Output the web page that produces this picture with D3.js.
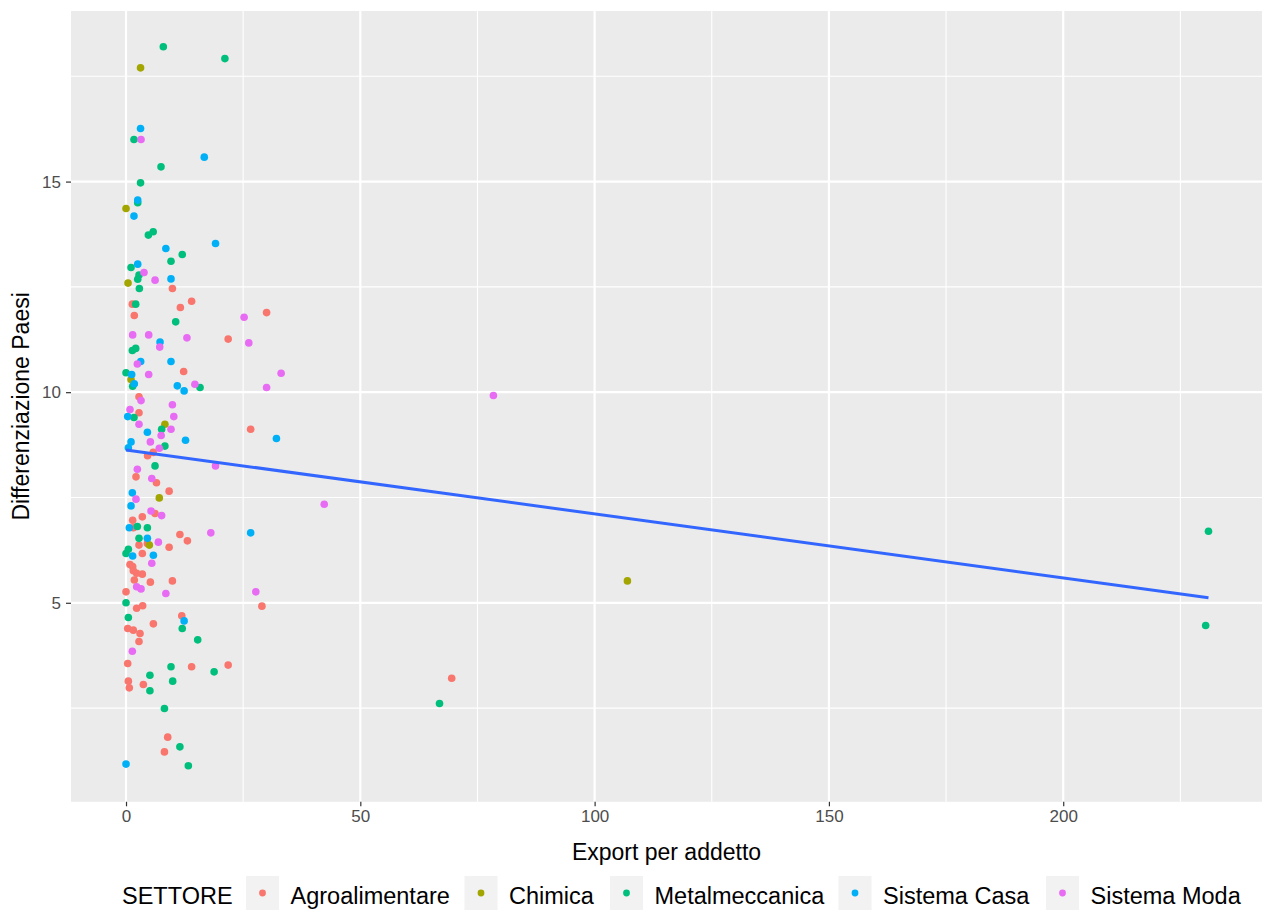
<!DOCTYPE html>
<html><head><meta charset="utf-8">
<script src="https://cdn.jsdelivr.net/npm/d3@7/dist/d3.min.js"></script>
<style>body{margin:0;background:#fff}svg{display:block;font-family:"Liberation Sans",Arial,sans-serif}</style>
</head><body><svg id="c" width="1262" height="910"></svg>
<script>
const sectors = ["Agroalimentare","Chimica","Metalmeccanica","Sistema Casa","Sistema Moda"];
const colors = ["#F8766D","#A3A500","#00BF7D","#00B0F6","#E76BF3"];
const agroalimentare = [[9.9,12.46],[14.0,12.16],[1.35,12.09],[11.6,12.01],[1.77,11.82],[21.8,11.26],[12.3,10.49],[2.77,9.89],[2.77,9.51],[5.8,8.57],[4.6,8.49],[2.13,7.99],[6.5,7.85],[9.2,7.65],[6.19,7.12],[3.48,7.04],[1.42,6.96],[11.5,6.62],[13.1,6.47],[1.56,6.78],[2.77,6.37],[4.56,6.41],[9.2,6.32],[3.48,6.17],[0.85,5.91],[1.42,5.86],[1.56,5.76],[2.27,5.7],[3.48,5.68],[1.77,5.54],[5.2,5.49],[9.9,5.52],[0,5.26],[3.55,4.93],[2.27,4.87],[11.9,4.69],[5.84,4.5],[0.36,4.39],[1.56,4.35],[2.99,4.27],[2.77,4.08],[0.36,3.56],[14.0,3.48],[21.8,3.52],[3.7,3.06],[0.5,3.14],[0.7,2.98],[8.9,1.81],[8.2,1.46],[30.0,11.89],[26.6,9.12],[29.0,4.92],[69.5,3.21]];
const chimica = [[3.1,17.7],[0,14.36],[0.43,12.59],[1.07,10.3],[8.3,9.24],[7.1,7.49],[4.98,6.37],[107.0,5.52]];
const metalmeccanica = [[7.96,18.2],[21.1,17.92],[1.7,16.0],[7.47,15.35],[3.1,14.97],[2.5,14.5],[5.8,13.81],[4.77,13.73],[12.0,13.27],[9.6,13.11],[1.07,12.96],[2.77,12.78],[2.5,12.68],[2.85,12.46],[2.07,12.09],[10.6,11.67],[2.07,11.04],[1.35,10.99],[0,10.46],[1.42,10.14],[15.8,10.11],[1.7,9.4],[7.6,9.12],[8.3,8.72],[6.19,8.25],[2.42,6.81],[4.56,6.78],[2.77,6.53],[0.5,6.27],[0,6.17],[0,5.0],[0.5,4.65],[12.0,4.39],[15.3,4.12],[9.6,3.48],[18.8,3.36],[5.1,3.28],[9.96,3.14],[5.1,2.91],[8.2,2.49],[11.5,1.58],[13.3,1.13],[66.9,2.61],[231.0,6.70],[230.4,4.46]];
const sistemaCasa = [[3.1,16.26],[16.7,15.58],[2.5,14.56],[1.7,14.18],[19.1,13.53],[8.5,13.41],[2.5,13.04],[9.6,12.69],[7.26,11.19],[3.13,10.73],[9.6,10.73],[1.21,10.42],[1.77,10.2],[10.95,10.15],[12.4,10.03],[0.36,9.42],[4.56,9.05],[12.7,8.86],[1.07,8.82],[0.5,8.68],[1.35,7.61],[1.07,7.3],[0.7,6.78],[4.56,6.53],[1.42,6.11],[5.84,6.13],[12.4,4.57],[0,1.17],[32.1,8.9],[26.6,6.66]];
const sistemaModa = [[3.2,16.0],[3.84,12.84],[6.2,12.66],[1.42,11.36],[4.84,11.36],[13.0,11.29],[7.19,11.07],[2.42,10.67],[4.84,10.42],[14.7,10.19],[3.2,9.8],[9.9,9.7],[0.85,9.59],[10.2,9.42],[2.77,9.24],[9.6,9.12],[7.5,8.97],[5.2,8.82],[7.1,8.67],[19.1,8.25],[2.42,8.17],[5.5,7.95],[2.13,7.46],[5.34,7.18],[7.6,7.07],[18.1,6.66],[6.9,6.44],[5.5,5.94],[2.27,5.38],[3.2,5.33],[8.5,5.22],[1.35,3.85],[25.2,11.78],[26.2,11.17],[33.1,10.45],[30.0,10.11],[42.3,7.34],[27.7,5.26],[78.4,9.92]];
const seriesData = [agroalimentare, chimica, metalmeccanica, sistemaCasa, sistemaModa];
const fitLine = [[0, 8.63], [231.0, 5.12]];
const xTicks = [0, 50, 100, 150, 200];
const xMinor = [25, 75, 125, 175, 225];
const yTicks = [5, 10, 15];
const yMinor = [2.5, 7.5, 12.5, 17.5];

const svg = d3.select("#c");
const L = 71, R = 1262, T = 11, B = 801.8;
const x = d3.scaleLinear().domain([-11.74, 242.42]).range([L, R]);
const y = d3.scaleLinear().domain([0.275, 19.05]).range([B, T]);

svg.append("rect").attr("x", L).attr("y", T).attr("width", R - L).attr("height", B - T).attr("fill", "#EBEBEB");
const g = svg.append("g");
g.selectAll(".vmin").data(xMinor).join("line").attr("x1", d => x(d)).attr("x2", d => x(d)).attr("y1", T).attr("y2", B).attr("stroke", "#fff").attr("stroke-width", 1.1);
g.selectAll(".hmin").data(yMinor).join("line").attr("y1", d => y(d)).attr("y2", d => y(d)).attr("x1", L).attr("x2", R).attr("stroke", "#fff").attr("stroke-width", 1.1);
g.selectAll(".vmaj").data(xTicks).join("line").attr("x1", d => x(d)).attr("x2", d => x(d)).attr("y1", T).attr("y2", B).attr("stroke", "#fff").attr("stroke-width", 2.2);
g.selectAll(".hmaj").data(yTicks).join("line").attr("y1", d => y(d)).attr("y2", d => y(d)).attr("x1", L).attr("x2", R).attr("stroke", "#fff").attr("stroke-width", 2.2);

// axes
const xAxis = d3.axisBottom(x).tickValues(xTicks).tickSize(4.5).tickPadding(4).tickSizeOuter(0);
const xa = svg.append("g").attr("transform", `translate(0,${B})`).call(xAxis);
const yAxis = d3.axisLeft(y).tickValues(yTicks).tickSize(5).tickPadding(5).tickSizeOuter(0);
const ya = svg.append("g").attr("transform", `translate(${L},0)`).call(yAxis);
[xa, ya].forEach(a => {
  a.select(".domain").remove();
  a.selectAll(".tick line").attr("stroke", "#333333").attr("stroke-width", 1.2);
  a.selectAll(".tick text").attr("fill", "#4D4D4D").style("font-size", "17px").style("font-family", "Liberation Sans, Arial, sans-serif");
});

// points
seriesData.forEach((pts, i) => {
  svg.append("g").selectAll("circle").data(pts).join("circle")
    .attr("cx", d => x(d[0])).attr("cy", d => y(d[1])).attr("r", 3.8).attr("fill", colors[i]);
});

// regression line
svg.append("path").datum(fitLine).attr("d", d3.line().x(d => x(d[0])).y(d => y(d[1])))
  .attr("fill", "none").attr("stroke", "#3366FF").attr("stroke-width", 3);

// axis titles
svg.append("text").attr("x", (L + R) / 2).attr("y", 860).attr("text-anchor", "middle").attr("fill", "#000").style("font-size", "23px").text("Export per addetto");
svg.append("text").attr("transform", `translate(29,${(T + B) / 2}) rotate(-90)`).attr("text-anchor", "middle").attr("fill", "#000").style("font-size", "23px").text("Differenziazione Paesi");

// legend
const lg = svg.append("g");
lg.append("text").attr("x", 122).attr("y", 904).style("font-size", "23.5px").attr("fill", "#000").text("SETTORE");
const keyX = [246, 464.5, 610, 838.5, 1046];
sectors.forEach((s, i) => {
  lg.append("rect").attr("x", keyX[i]).attr("y", 876).attr("width", 33).attr("height", 34).attr("fill", "#F2F2F2");
  lg.append("circle").attr("cx", keyX[i] + 16.5).attr("cy", 893).attr("r", 3.4).attr("fill", colors[i]);
  lg.append("text").attr("x", keyX[i] + 44.5).attr("y", 904).style("font-size", "23.5px").attr("fill", "#000").text(s);
});
</script></body></html>
